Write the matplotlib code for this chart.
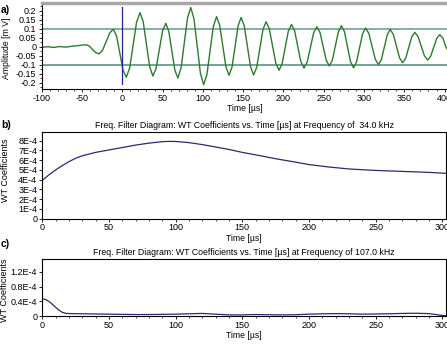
import matplotlib
matplotlib.use("Agg")
import matplotlib.pyplot as plt
import numpy as np
from matplotlib.ticker import MultipleLocator, FixedLocator, FixedFormatter

plt.rcParams["font.family"] = ["Liberation Sans", "DejaVu Sans"]
plt.rcParams["font.size"] = 6.5
plt.rcParams["axes.unicode_minus"] = False

# a) raw signal, amplitude [mV] vs time [us] (read off the picture)
t_sig = [-100, -92, -85, -78, -70, -62, -55, -50, -45,
         -41, -37, -33, -29, -24.5, -20, -15.5, -11, -7, -3, 1, 5,
         9.25, 13.5, 17.75, 22, 26, 30, 34, 38, 42, 46, 50, 54,
         57.75, 61.5, 65.25, 69, 73, 77, 81, 85, 89, 93, 97, 101,
         105, 109, 113, 117, 120.9, 124.75, 128.6, 132.5,
         136.25, 140, 143.75, 147.5, 151.4, 155.25, 159.1, 163,
         166.9, 170.75, 174.6, 178.5, 182.5, 186.5, 190.5, 194.5,
         198.4, 202.25, 206.1, 210, 213.9, 217.75, 221.6, 225.5,
         229.5, 233.5, 237.5, 241.5, 245.4, 249.25, 253.1, 257,
         260.75, 264.5, 268.25, 272, 275.75, 279.5, 283.25, 287,
         290.75, 294.5, 298.25, 302, 306, 310, 314, 318,
         321.6, 325.25, 328.9, 332.5, 336.4, 340.25, 344.1, 348,
         351.75, 355.5, 359.25, 363, 367, 371, 375, 379,
         382.75, 386.5, 390.25, 394, 398, 401.5, 404]
v_sig = [-0.003, 0.0, -0.004, 0.001, -0.002, 0.003, 0.006, 0.009, 0.011,
         0.004, -0.015, -0.032, -0.04, -0.02, 0.028, 0.077, 0.097, 0.058, -0.037, -0.131, -0.17,
         -0.117, 0.01, 0.137, 0.19, 0.138, 0.013, -0.111, -0.163, -0.12, -0.016, 0.087, 0.13,
         0.085, -0.022, -0.13, -0.174, -0.117, 0.022, 0.161, 0.218, 0.155, 0.003, -0.148, -0.211,
         -0.156, -0.022, 0.112, 0.167, 0.119, 0.004, -0.111, -0.159,
         -0.112, 0.002, 0.116, 0.163, 0.116, 0.003, -0.11, -0.157,
         -0.114, -0.009, 0.096, 0.139, 0.099, 0.004, -0.091, -0.131,
         -0.094, -0.003, 0.087, 0.124, 0.088, 0.002, -0.083, -0.119,
         -0.085, -0.004, 0.077, 0.111, 0.079, 0.002, -0.075, -0.107,
         -0.074, 0.005, 0.084, 0.117, 0.083, 0.0, -0.083, -0.117,
         -0.085, -0.006, 0.072, 0.104, 0.074, 0.002, -0.07, -0.1,
         -0.071, -0.002, 0.067, 0.096, 0.069, 0.003, -0.062, -0.089,
         -0.064, -0.004, 0.055, 0.08, 0.057, 0.003, -0.051, -0.074,
         -0.053, -0.003, 0.046, 0.067, 0.047, 0.0, -0.02]
threshold = 0.1

# b) WT coefficients at 34.0 kHz (units of 1E-4)
t_b = [0, 5, 10, 15, 20, 25, 30, 40, 50, 60, 70, 80, 90, 95, 100, 110, 120,
       130, 140, 150, 160, 175, 190, 200, 215, 230, 250, 270, 290, 303]
wt_b = [3.93, 4.5, 5.0, 5.45, 5.85, 6.2, 6.45, 6.8, 7.05, 7.3, 7.55, 7.75, 7.9,
        7.93, 7.92, 7.8, 7.6, 7.35, 7.1, 6.8, 6.55, 6.15, 5.8, 5.55, 5.3, 5.1,
        4.95, 4.85, 4.75, 4.65]

# c) WT coefficients at 107.0 kHz (units of 1E-4)
t_c = [0, 3, 6, 9, 12, 15, 18, 22, 30, 40, 50, 60, 70, 80, 90, 100, 110, 120,
       130, 140, 150, 160, 170, 180, 190, 200, 210, 220, 230, 240, 250, 260,
       270, 280, 290, 295, 300, 303]
wt_c = [0.47, 0.44, 0.37, 0.27, 0.17, 0.10, 0.07, 0.065, 0.06, 0.055, 0.05,
        0.045, 0.04, 0.04, 0.045, 0.05, 0.06, 0.07, 0.05, 0.03, 0.03, 0.04,
        0.035, 0.03, 0.035, 0.05, 0.06, 0.065, 0.06, 0.05, 0.055, 0.06, 0.07,
        0.075, 0.065, 0.04, 0.015, 0.01]

W, H = 447, 345
fig = plt.figure(figsize=(W / 100, H / 100), dpi=100)


def box(left, top, right, bottom):
    return [left / W, 1 - bottom / H, (right - left) / W, (bottom - top) / H]


def style(ax):
    ax.tick_params(axis="both", which="major", length=2.5, width=0.6,
                   labelsize=6.5)
    ax.tick_params(axis="x", which="major", pad=0.8)
    ax.tick_params(axis="y", which="major", pad=1.2)
    ax.tick_params(axis="both", which="minor", length=1.5, width=0.5)
    for s in ax.spines.values():
        s.set_linewidth(0.8)


def place_ylabel(ax, text, x_px, y_px):
    ax.set_ylabel(text)
    ax.yaxis.set_label_coords(x_px / W, 1 - y_px / H, transform=fig.transFigure)
    ax.yaxis.label.set_va("center")


# ---- a) ----
ax_a = fig.add_axes(box(41.7, 3, 447, 89))
ax_a.plot(t_sig, v_sig, color="#2e7a30", lw=1.0)
ax_a.axhline(threshold, color="#7aa8a2", lw=1.3, zorder=1)
ax_a.axhline(-threshold, color="#6f9a8f", lw=1.3, zorder=1)
ax_a.plot([0, 0], [-0.205, 0.22], color="#22229a", lw=0.9)
ax_a.set_xlim(-100, 403)
ax_a.set_ylim(-0.235, 0.243)
ax_a.xaxis.set_major_locator(MultipleLocator(50))
ax_a.xaxis.set_minor_locator(MultipleLocator(10))
ax_a.set_yticks([0.2, 0.15, 0.1, 0.05, 0, -0.05, -0.1, -0.15, -0.2])
ax_a.set_yticklabels(["0.2", "0.15", "0.1", "0.05", "0", "-0.05", "-0.1",
                      "-0.15", "-0.2"])
ax_a.yaxis.set_minor_locator(MultipleLocator(0.025))
style(ax_a)
ax_a.spines["top"].set_color("#a8a8a8")
ax_a.spines["top"].set_linewidth(2.5)
ax_a.spines["right"].set_visible(False)
ax_a.set_xlabel("Time [µs]", labelpad=1, fontsize=6.2)
place_ylabel(ax_a, "Amplitude [m V]", 7, 48)
ax_a.yaxis.label.set_fontsize(6.2)
fig.text(1 / W, 1 - 10 / H, "a)", fontweight="bold", fontsize=7.5, va="center")

# ---- b) ----
ax_b = fig.add_axes(box(42.3, 132.3, 446.3, 218.7))
ax_b.plot(t_b, np.array(wt_b) * 1e-4, color="#2a2a6e", lw=0.9)
ax_b.set_xlim(0, 303)
ax_b.set_ylim(0, 8.86e-4)
ax_b.xaxis.set_major_locator(MultipleLocator(50))
ax_b.xaxis.set_minor_locator(MultipleLocator(10))
b_ticks = [i * 1e-4 for i in range(9)]
ax_b.yaxis.set_major_locator(FixedLocator(b_ticks))
ax_b.yaxis.set_major_formatter(FixedFormatter(["0"] + [f"{i}E-4" for i in range(1, 9)]))
style(ax_b)
ax_b.set_title("Freq. Filter Diagram: WT Coefficients vs. Time [µs] at Frequency of  34.0 kHz",
               fontsize=6.3, pad=3)
ax_b.set_xlabel("Time [µs]", labelpad=1, fontsize=6.2)
place_ylabel(ax_b, "WT Coefficients", 6, 170)
fig.text(1 / W, 1 - 125 / H, "b)", fontweight="bold", fontsize=7.5, va="center")

# ---- c) ----
ax_c = fig.add_axes(box(42.3, 259, 446.3, 316))
ax_c.plot(t_c, np.array(wt_c) * 1e-4, color="#2a2a6e", lw=0.9)
ax_c.set_xlim(0, 303)
ax_c.set_ylim(0, 1.55e-4)
ax_c.xaxis.set_major_locator(MultipleLocator(50))
ax_c.xaxis.set_minor_locator(MultipleLocator(10))
ax_c.yaxis.set_major_locator(FixedLocator([0, 0.4e-4, 0.8e-4, 1.2e-4]))
ax_c.yaxis.set_major_formatter(FixedFormatter(["0", "0.4E-4", "0.8E-4", "1.2E-4"]))
style(ax_c)
ax_c.set_title("Freq. Filter Diagram: WT Coefficients vs. Time [µs] at Frequency of 107.0 kHz",
               fontsize=6.3, pad=3)
ax_c.set_xlabel("Time [µs]", labelpad=1, fontsize=6.2)
place_ylabel(ax_c, "WT Coefficients", 5, 290)
fig.text(1 / W, 1 - 244 / H, "c)", fontweight="bold", fontsize=7.5, va="center")

fig.savefig("out.png", dpi=100)
